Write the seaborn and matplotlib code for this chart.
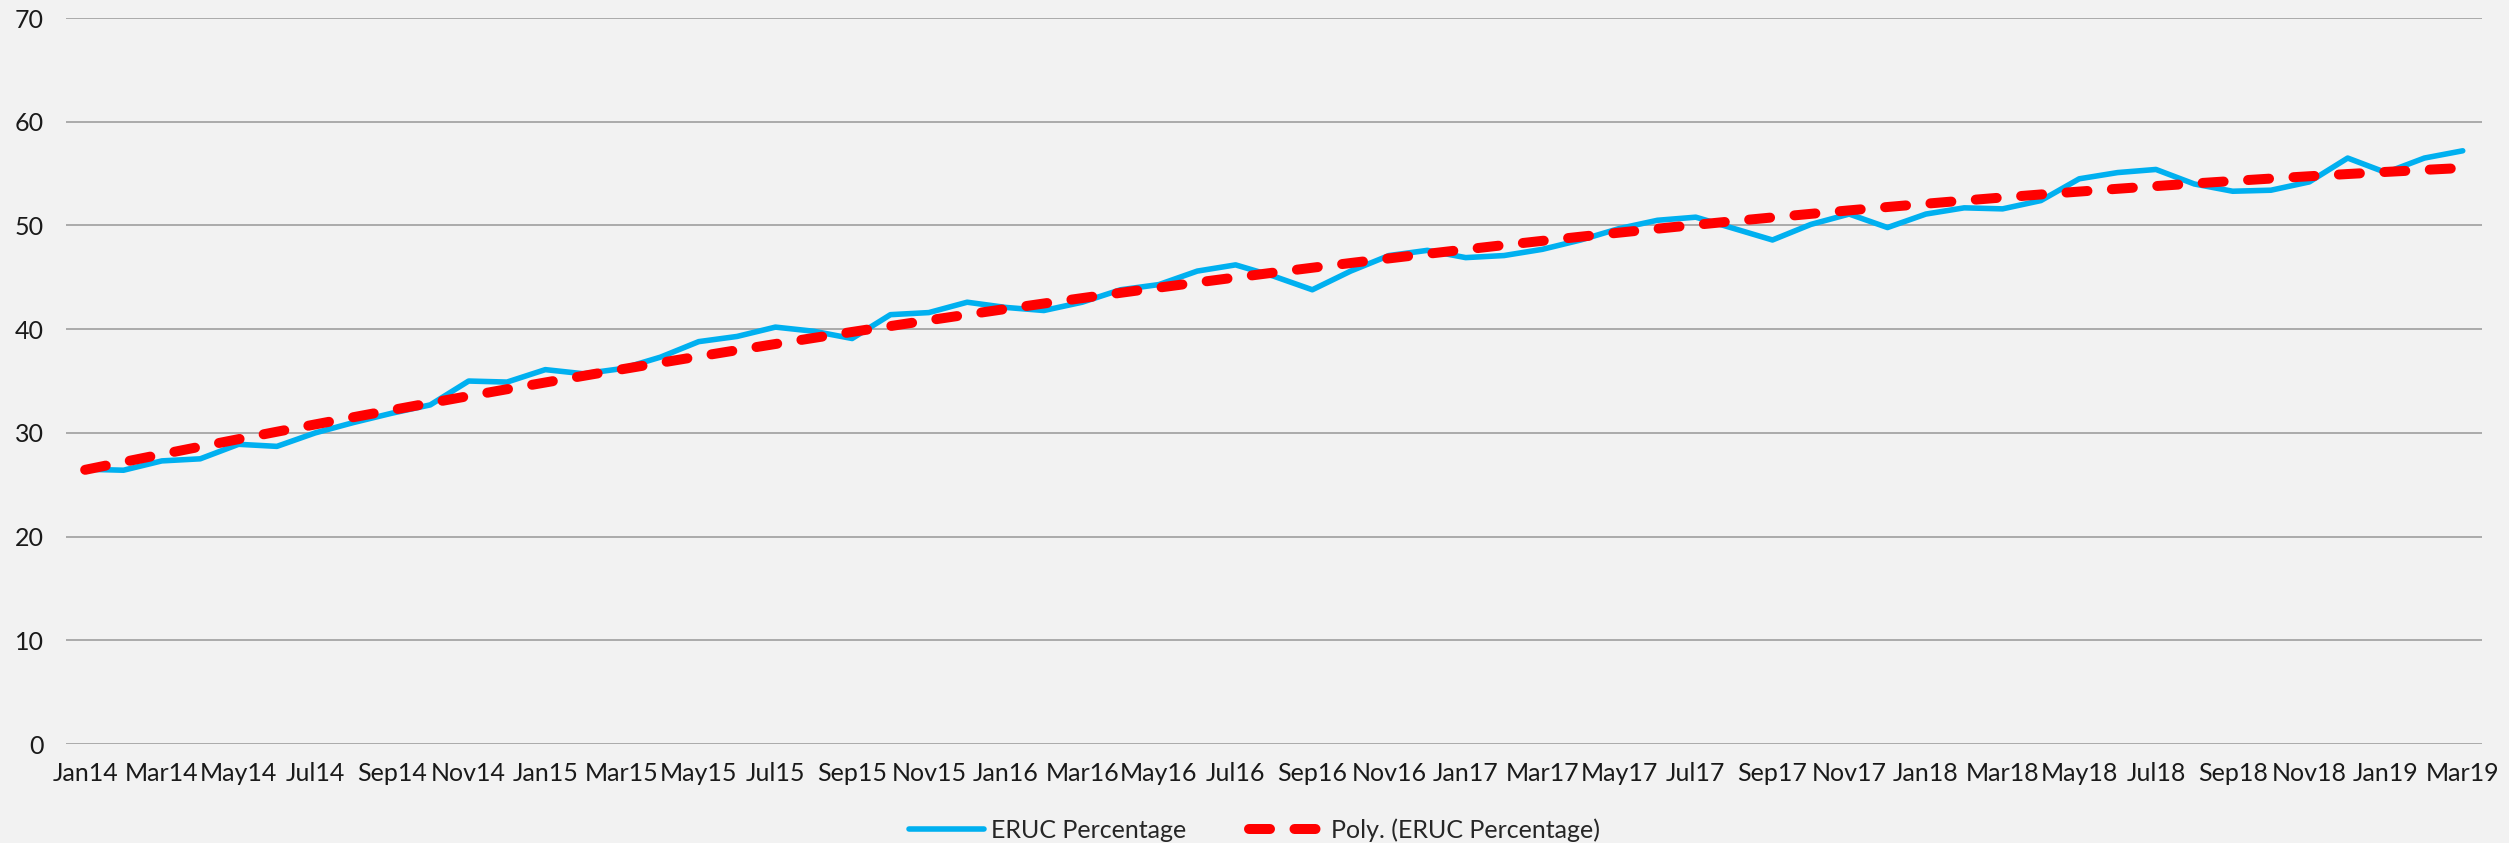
import numpy as np
import pandas as pd
import matplotlib
matplotlib.use("Agg")
import matplotlib.pyplot as plt
import seaborn as sns

months = [f"{m}{y}" for y in range(14, 20) for m in
          ["Jan", "Feb", "Mar", "Apr", "May", "Jun", "Jul", "Aug", "Sep", "Oct", "Nov", "Dec"]][:63]

eruc = [26.5, 26.4, 27.3, 27.5, 28.9, 28.7, 30.0, 31.0, 31.9, 32.7,
        35.0, 34.9, 36.1, 35.7, 36.2, 37.3, 38.8, 39.3, 40.2, 39.8,
        39.1, 41.4, 41.6, 42.6, 42.1, 41.8, 42.6, 43.8, 44.3, 45.6,
        46.2, 45.1, 43.8, 45.6, 47.1, 47.6, 46.9, 47.1, 47.7, 48.6,
        49.7, 50.5, 50.8, 49.7, 48.6, 50.1, 51.1, 49.8, 51.1, 51.7,
        51.6, 52.4, 54.5, 55.1, 55.4, 54.0, 53.3, 53.4, 54.2, 56.5,
        55.1, 56.5, 57.2]

y_ticks = [0, 10, 20, 30, 40, 50, 60, 70]

df = pd.DataFrame({"month": months, "pos": range(len(months)), "eruc": eruc})
# Excel "Poly." trendline (order 2) fitted on the series
coef = np.polyfit(df["pos"], df["eruc"], 2)
df["poly"] = np.polyval(coef, df["pos"])

sns.set_theme(style="white")
plt.rcParams["font.family"] = ["Lato", "DejaVu Sans"]

bg = "#F2F2F2"
fig = plt.figure(figsize=(25.09, 8.43), dpi=100, facecolor=bg)
ax = fig.add_axes([0.0263, 0.1174, 0.9629, 0.8612])
ax.set_facecolor(bg)

sns.lineplot(data=df, x="pos", y="eruc", ax=ax, color="#00B0F0", linewidth=4.0,
             label="ERUC Percentage")
sns.lineplot(data=df, x="pos", y="poly", ax=ax, color="#FF0000", linewidth=7.2,
             label="Poly. (ERUC Percentage)")
red = ax.lines[1]
red.set_dashes((2.1, 2.45))
red.set_dash_capstyle("round")
ax.lines[0].set_solid_capstyle("round")

ax.set_xlim(-0.5, 62.5)
ax.set_ylim(0, 70)
ax.set_yticks(y_ticks)
ax.set_xticks(df["pos"][::2])
ax.set_xticklabels(df["month"][::2])
ax.set_xlabel("")
ax.set_ylabel("")
ax.yaxis.grid(True, color="#ABABAB", linewidth=1.4)
ax.set_axisbelow(True)
for s in ax.spines.values():
    s.set_visible(False)
ax.tick_params(axis="y", length=0, pad=16, labelsize=18, labelcolor="#1a1a1a")
ax.tick_params(axis="x", length=0, pad=13, labelsize=18, labelcolor="#1a1a1a")

ax.get_legend().remove()
h, l = ax.get_legend_handles_labels()
fig.legend(h, l, loc="center", bbox_to_anchor=(0.5, 0.015), ncol=2, frameon=False,
           fontsize=18, handlelength=3.0, columnspacing=2.5, handletextpad=0.3)

fig.savefig("out.png", dpi=100, facecolor=bg)
